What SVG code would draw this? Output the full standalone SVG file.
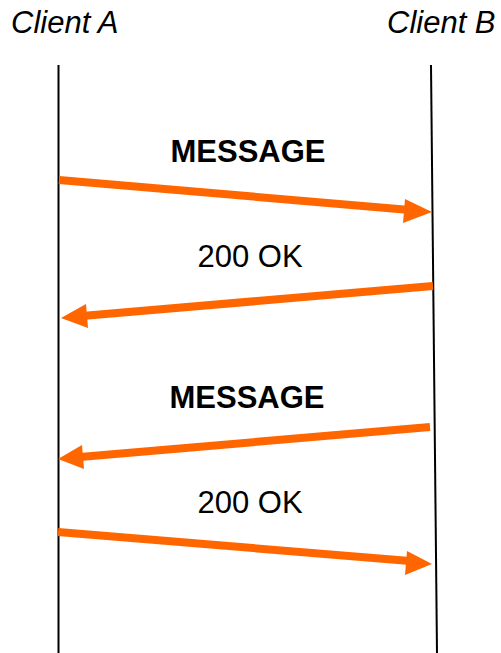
<svg xmlns="http://www.w3.org/2000/svg" width="501" height="653" viewBox="0 0 501 653">
<style>
.life{stroke:#000;stroke-width:2;fill:none}
.msg{stroke:#FF6600;stroke-width:8;fill:none}
.head{fill:#FF6600}
.t{font-family:"Liberation Sans",Arial,sans-serif;font-size:31px;fill:#000}
.it{font-style:italic}
.b{font-weight:bold}
</style>
<rect width="501" height="653" fill="#fff"/>
<g id="clientA">
<text class="t it" x="11" y="33">Client A</text>
<line class="life" x1="58.5" y1="65" x2="58.5" y2="653"/>
</g>
<g id="clientB">
<text class="t it" x="387" y="33">Client B</text>
<line class="life" x1="431" y1="65" x2="437" y2="653"/>
</g>
<g id="connectors">
<line class="msg" x1="59" y1="180" x2="410" y2="210"/>
<polygon class="head" points="432,212 405,199 403,223"/>
<text class="t b" x="248" y="162" text-anchor="middle">MESSAGE</text>
<line class="msg" x1="433" y1="286" x2="82" y2="316"/>
<polygon class="head" points="61,318 86,304 88,328"/>
<text class="t" x="250" y="267" text-anchor="middle">200 OK</text>
<line class="msg" x1="430" y1="427" x2="80" y2="457"/>
<polygon class="head" points="58,459 82,445 84,469"/>
<text class="t b" x="247" y="408" text-anchor="middle">MESSAGE</text>
<line class="msg" x1="58" y1="532" x2="410" y2="561"/>
<polygon class="head" points="432,564 407,551 405,575"/>
<text class="t" x="250" y="513" text-anchor="middle">200 OK</text>
</g>
</svg>
